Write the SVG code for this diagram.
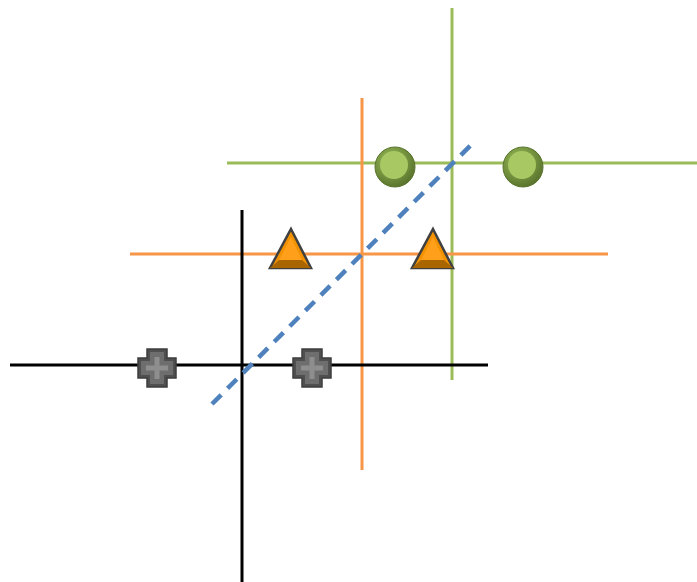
<svg xmlns="http://www.w3.org/2000/svg" width="697" height="582" viewBox="0 0 697 582">
<defs>
<style>
.ln{stroke-width:3;fill:none}
.g{stroke:#9bbb59}
.o{stroke:#f79646}
.k{stroke:#000}
.dash{stroke:#4f81bd;stroke-width:4.5;stroke-dasharray:13 9;fill:none}
.tri{fill:#f39200;stroke:#404040;stroke-width:2.5;stroke-linejoin:miter}
</style>
<radialGradient id="cg" cx="0.4" cy="0.35" r="0.7">
<stop offset="0" stop-color="#9cbf5a"/>
<stop offset="1" stop-color="#56702a"/>
</radialGradient>
<g id="circ">
<circle r="20" fill="url(#cg)" stroke="#5b7530" stroke-width="1"/>
<circle cx="-1" cy="-2" r="14" fill="#a7c862"/>
</g>
<g id="tri">
<polygon class="tri" points="0,-39 20,0 -21,0"/>
<polygon points="0,-31 11,-8 -12,-8" fill="#ff9f1a"/>
<polygon points="-21,0 -12,-8 11,-8 20,0" fill="#a86500"/>
</g>
<g id="cross">
<polygon points="-10,-19 10,-19 10,-10 19,-10 19,10 10,10 10,19 -10,19 -10,10 -19,10 -19,-10 -10,-10" fill="#4f4f4f" stroke="#3e3e3e" stroke-width="1.5"/>
<polygon points="-7,-16 7,-16 7,-7 16,-7 16,7 7,7 7,16 -7,16 -7,7 -16,7 -16,-7 -7,-7" fill="#6e6e6e"/>
<polygon points="-2.5,-11 2.5,-11 2.5,-2.5 11,-2.5 11,2.5 2.5,2.5 2.5,11 -2.5,11 -2.5,2.5 -11,2.5 -11,-2.5 -2.5,-2.5" fill="#8e8e8e"/>
</g>
</defs>
<rect width="697" height="582" fill="#fff"/>
<g id="connectors">
<line class="ln g" x1="227" y1="163" x2="697" y2="163"/>
<line class="ln g" x1="452" y1="8" x2="452" y2="380"/>
<line class="ln o" x1="130" y1="254" x2="608" y2="254"/>
<line class="ln o" x1="362" y1="98" x2="362" y2="470"/>
<line class="ln k" x1="10" y1="365" x2="488" y2="365"/>
<line class="ln k" x1="242" y1="210" x2="242" y2="582"/>
<line class="dash" x1="212" y1="404" x2="474" y2="142"/>
</g>
<g id="circle1"><use href="#circ" x="395" y="167"/></g>
<g id="circle2"><use href="#circ" x="523" y="167"/></g>
<g id="triangle1"><use href="#tri" x="291" y="268"/></g>
<g id="triangle2"><use href="#tri" x="433" y="268"/></g>
<g id="cross1"><use href="#cross" x="157" y="368"/></g>
<g id="cross2"><use href="#cross" x="312" y="368"/></g>
</svg>
